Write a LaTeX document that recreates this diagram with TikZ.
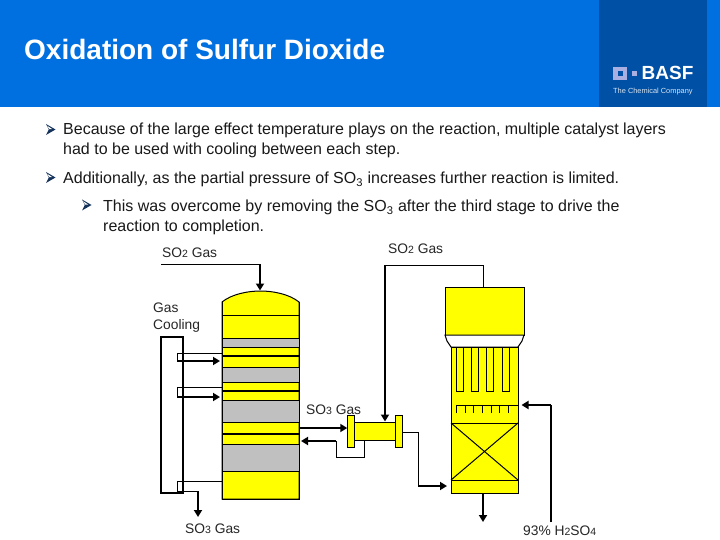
\documentclass[tikz,border=0pt]{standalone}
\usepackage{fontspec}
\setmainfont{Liberation Sans}
\usetikzlibrary{arrows.meta}
\definecolor{topblue}{RGB}{0,112,224}
\definecolor{panelblue}{RGB}{0,80,165}
\definecolor{vessel}{RGB}{255,255,0}
\definecolor{bedgray}{RGB}{192,192,192}
\definecolor{bulletblue}{RGB}{20,50,90}
\definecolor{logolav}{RGB}{170,175,225}
\newcommand{\sm}[1]{{\fontsize{10.5}{11}\selectfont #1}}
\tikzset{
  thinl/.style={draw=black,line width=1pt},
  thickl/.style={draw=black,line width=2pt},
  arrowl/.style={thickl,-{Triangle[length=7pt,width=8pt]}},
  part/.style={draw=black,line width=1pt,fill=vessel},
  bed/.style={draw=black,line width=1pt,fill=bedgray},
  body/.style={anchor=base west,inner sep=0pt,font=\fontsize{16}{18}\selectfont,text=black!90},
  lab/.style={anchor=base west,inner sep=0pt,font=\fontsize{13.8}{15}\selectfont,text=black!85},
  bul/.pic={\fill[bulletblue] (0,0) -- (9.5,5.5) -- (0,11) -- (2.8,5.5) -- cycle;
            \fill[white] (1.2,1.8)--(6.2,5.1)--(3.2,5.1)--cycle;}
}
\begin{document}
\begin{tikzpicture}[x=1pt,y=-1pt]
\useasboundingbox (0,0) rectangle (720,540);
\fill[white] (0,0) rectangle (720,540);
% header
\fill[topblue] (0,0) rectangle (720,107);
\fill[panelblue] (599,0) rectangle (707,107);
\node[anchor=base west,inner sep=0pt,text=white,font=\fontsize{28}{30}\selectfont\bfseries] (title) at (24,60) {Oxidation of Sulfur Dioxide};
\fill[logolav] (613,67) rectangle (627,80);
\fill[panelblue] (617.5,71) rectangle (622.5,76);
\fill[logolav] (632,71) rectangle (637,76);
\node[anchor=base west,inner sep=0pt,text=white,font=\fontsize{19}{20}\selectfont\bfseries] (basf) at (641.5,80) {BASF};
\node[anchor=base west,inner sep=0pt,text=white!85!panelblue,font=\fontsize{7.4}{8}\selectfont] (tagline) at (613,94) {The Chemical Company};
% bullets
\pic at (46,124) {bul};
\pic at (46,172) {bul};
\pic at (82,199.5) {bul};
\node[body] (t1a) at (63,134.7) {Because of the large effect temperature plays on the reaction, multiple catalyst layers};
\node[body] (t1b) at (63,154.7) {had to be used with cooling between each step.};
\node[body] (t2) at (63,183.7) {Additionally, as the partial pressure of SO$_{\mathrm{3}}$ increases further reaction is limited.};
\node[body] (t3a) at (103,211.7) {This was overcome by removing the SO$_{\mathrm{3}}$ after the third stage to drive the};
\node[body] (t3b) at (103,231.7) {reaction to completion.};
% labels
\node[lab] (so2a) at (162,258) {SO\sm{2} Gas};
\node[lab] (so2b) at (388,253) {SO\sm{2} Gas};
\node[lab] (cool1) at (153,312) {Gas};
\node[lab] (cool2) at (153,329) {Cooling};
\node[lab] (so3a) at (306,414) {SO\sm{3} Gas};
\node[lab] (so3b) at (185,533) {SO\sm{3} Gas};
\node[lab] (acid) at (523,535) {93\% H\sm{2}SO\sm{4}};
% converter column
\path[part] (222,302) .. controls (232,294) and (248,291) .. (260.5,291) .. controls (273,291) and (289,294) .. (299,302) -- (299,499) -- (222,499) -- cycle;
\draw[thinl] (222,315) -- (299,315);
\path[bed] (222,338) rectangle (299,347);
\path[bed] (222,367) rectangle (299,382);
\path[bed] (222,400) rectangle (299,422);
\path[bed] (222,444) rectangle (299,471);
\draw[thickl] (222,356) -- (299,356);
\draw[thickl] (222,391) -- (299,391);
\draw[thickl] (222,434) -- (299,434);
\draw[thinl] (222,302) -- (222,499) -- (299,499) -- (299,302);
% exchanger
\node[part,minimum width=41pt,minimum height=18pt,inner sep=0pt] (hx) at (374.5,431) {};
\node[part,minimum width=6.5pt,minimum height=32pt,inner sep=0pt] (fl) at (351,431) {};
\node[part,minimum width=6.5pt,minimum height=32pt,inner sep=0pt] (fr) at (399,431) {};
% absorption tower
\node[part,minimum width=79pt,minimum height=48pt,inner sep=0pt] (cap) at (484.5,311) {};
\path[thinl,fill=white] (445,335) -- (447,341) -- (451,347) -- (518,347) -- (522,341) -- (524,335) -- cycle;
\node[part,minimum width=67pt,minimum height=146pt,inner sep=0pt] (tower) at (484.5,420) {};
\foreach \x in {456,471,486,502}{
  \draw[thinl] (\x,347) -- (\x,391) -- (\x+7.5,391) -- (\x+7.5,347);
}
\draw[thinl] (456,405) -- (518,405);
\foreach \x in {456,465,473.5,482,491,499.5,508}{
  \draw[thinl] (\x,405) -- (\x,413);
}
\draw[thinl] (451,423) -- (518,423);
\draw[thinl] (451,480) -- (518,480);
\draw[thinl] (451,423) -- (518,480);
\draw[thinl] (451,480) -- (518,423);
% coordinates
\coordinate (inA) at (161,264);
\coordinate (inC) at (260,264);
\coordinate (inB) at (260,290.5);
\coordinate (g1) at (222,353); \coordinate (g1b) at (177,353); \coordinate (g1c) at (177,361); \coordinate (g1e) at (220,361);
\coordinate (g2) at (222,387); \coordinate (g2b) at (177,387); \coordinate (g2c) at (177,397); \coordinate (g2e) at (220,397);
\coordinate (g3) at (222,481); \coordinate (g3b) at (177,481); \coordinate (g3c) at (177,491); \coordinate (g3d) at (198,491); \coordinate (g3e) at (198,517);
\coordinate (coolA) at (161,337); \coordinate (coolB) at (183,337); \coordinate (coolC) at (183,493); \coordinate (coolD) at (161,493);
% connectors
\draw[thinl] (inA) -- (inC);
\draw[arrowl] (inC) -- (inB);
\draw[thickl] (coolA) -- (coolB) -- (coolC) -- (coolD) -- cycle;
\draw[thinl] (g1) -- (g1b) -- (g1c);
\draw[arrowl] (g1c) -- (g1e);
\draw[thinl] (g2) -- (g2b) -- (g2c);
\draw[arrowl] (g2c) -- (g2e);
\draw[thinl] (g3) -- (g3b) -- (g3c);
\draw[thinl] (g3c) -- (g3d);
\draw[arrowl] (g3d) -- (g3e);
\coordinate (s3a) at (299,428);
\draw[arrowl] (s3a) -- (fl.west |- s3a);
\coordinate (hxr) at (402.5,432.5);
\coordinate (rb) at (418,432.5);
\coordinate (rc) at (418,486);
\coordinate (rd) at (447,486);
\draw[thinl] (fr.east |- hxr) -- (rb) -- (rc);
\draw[arrowl] (rc) -- (rd);
\coordinate (lp1) at (364,457); \coordinate (lp2) at (336,457); \coordinate (lp3) at (336,441); \coordinate (lp4) at (301,441);
\draw[thinl] (hx.south -| lp1) -- (lp1) -- (lp2) -- (lp3);
\draw[arrowl] (lp3) -- (lp4);
% SO2 branch
\coordinate (bA) at (483.5,287); \coordinate (bB) at (483.5,265); \coordinate (bC) at (385,265); \coordinate (bD) at (385,422);
\draw[thinl] (cap.north -| bA) -- (bB) -- (bC);
\draw[arrowl] (bC) -- (hx.north -| bD);
% acid
\coordinate (acA) at (551,522); \coordinate (acB) at (551,405); \coordinate (acC) at (521.5,405);
\draw[thinl,line width=1.4pt] (acA) -- (acB);
\draw[arrowl] (acB) -- (acC);
\coordinate (outT) at (483,522);
\draw[arrowl] (tower.south -| outT) -- (outT);
\end{tikzpicture}
\end{document}
